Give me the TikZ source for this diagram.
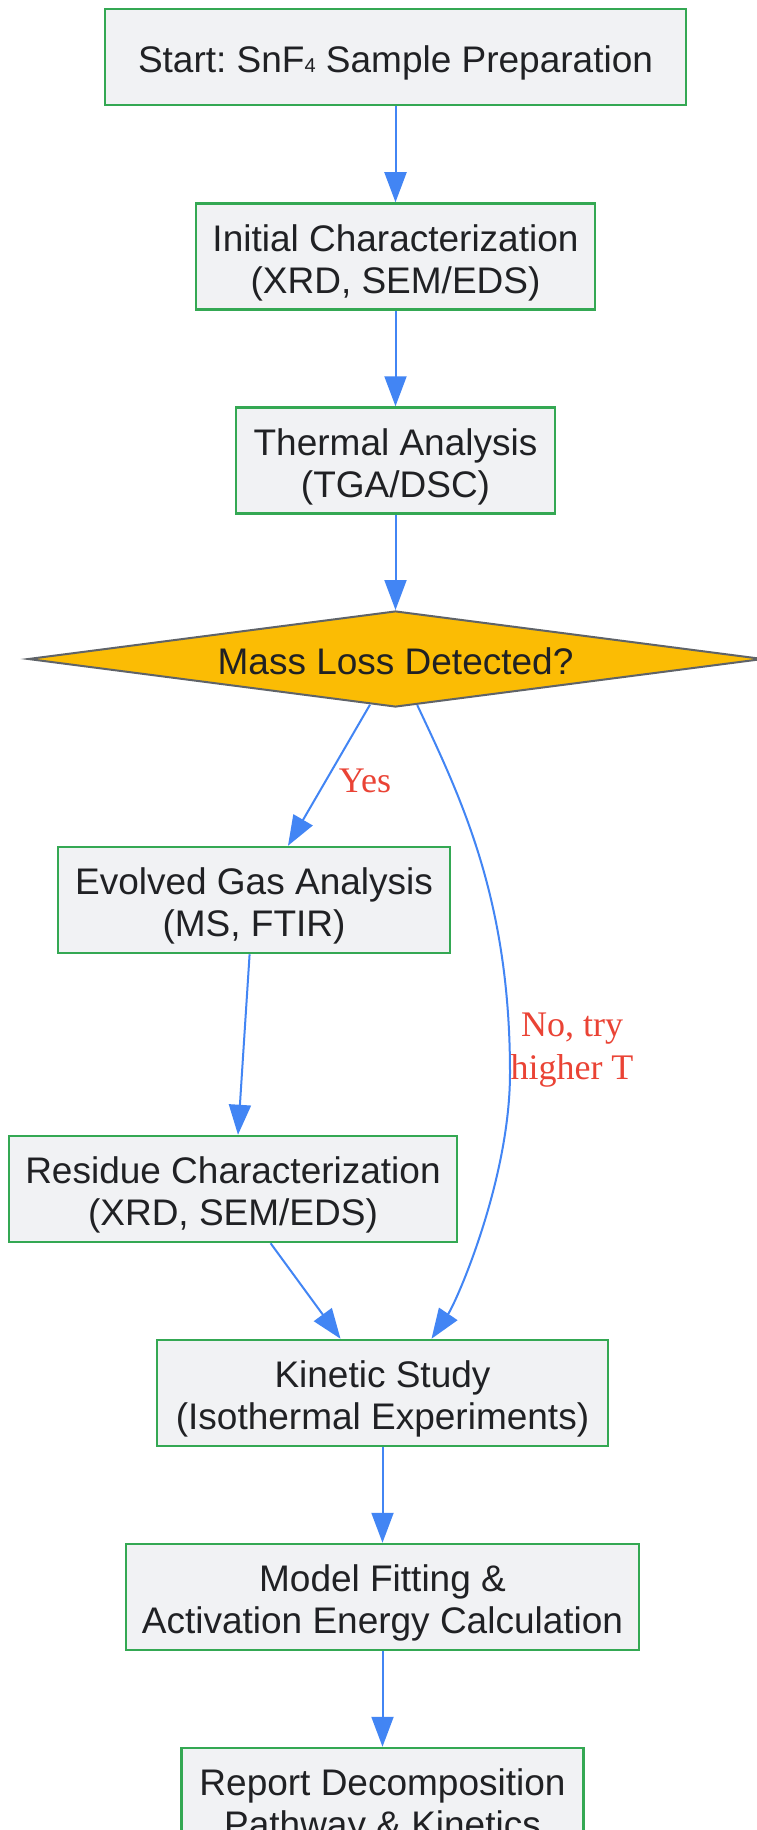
\documentclass[tikz,border=0pt]{standalone}
\usepackage{fontspec}
\setmainfont{Liberation Sans}
\newfontfamily\labelserif{Liberation Serif}
\usetikzlibrary{shapes.geometric,arrows.meta,calc}
\definecolor{boxfill}{HTML}{F1F2F4}
\definecolor{boxline}{HTML}{34A853}
\definecolor{edgeblue}{HTML}{4285F4}
\definecolor{decfill}{HTML}{FBBC04}
\definecolor{decline}{HTML}{5F6368}
\definecolor{txt}{HTML}{202124}
\definecolor{lblred}{HTML}{EA4335}
\frenchspacing
\newcommand\firstln{\rule{0pt}{39pt}}
\begin{document}
\begin{tikzpicture}[x=1pt,y=-1pt,
  stepbox/.style={draw=boxline, line width=2.5pt, fill=boxfill, text=txt, align=center,
    inner sep=0pt, minimum height=106pt, font=\fontsize{37}{42}\selectfont},
  decision/.style={diamond, aspect=7.66, draw=decline, line width=2pt, fill=decfill,
    text=txt, inner sep=0pt, minimum width=735pt, minimum height=96pt,
    font=\fontsize{37}{42}\selectfont},
  edge/.style={draw=edgeblue, line width=2pt, -{Triangle[length=30pt,width=22pt]}},
  elabel/.style={text=lblred, font=\labelserif\fontsize{36}{43}\selectfont, align=center, inner sep=0pt}]
\useasboundingbox (0,0) rectangle (757,1830);
\fill[white] (0,0) rectangle (757,1830);

\node[stepbox, minimum width=581pt, minimum height=96pt] (start) at (395.5,57)
  {\firstln Start: SnF{\fontsize{20}{20}\selectfont 4} Sample Preparation};
\node[stepbox, minimum width=399pt] (init) at (395.5,256.5)
  {\firstln Initial Characterization\\(XRD, SEM/EDS)};
\node[stepbox, minimum width=319pt] (therm) at (395.5,460.5)
  {\firstln Thermal Analysis\\(TGA/DSC)};
\node[decision] (dia) at (395.5,659) {\rule{0pt}{32pt}Mass Loss Detected?};
\node[stepbox, minimum width=392pt] (evo) at (254,900)
  {\firstln Evolved Gas Analysis\\(MS, FTIR)};
\node[stepbox, minimum width=448pt] (res) at (233,1189)
  {\firstln Residue Characterization\\(XRD, SEM/EDS)};
\node[stepbox, minimum width=451pt] (kin) at (382.5,1393)
  {\firstln Kinetic Study\\(Isothermal Experiments)};
\node[stepbox, minimum width=513pt] (model) at (382.5,1597)
  {\firstln Model Fitting \&\\Activation Energy Calculation};
\node[stepbox, minimum width=402pt] (rep) at (382.5,1801)
  {\firstln Report Decomposition\\Pathway \& Kinetics};

\coordinate (nobend) at (510,1073);

\draw[edge] (start) -- (init);
\draw[edge] (init) -- (therm);
\draw[edge] (therm) -- (dia);
\draw[edge] ([xshift=-25.5pt,yshift=3.3pt]dia.south) -- ([xshift=34pt]evo.north);
\draw[edge] ([xshift=-4.4pt]evo.south) -- ([xshift=5pt]res.north);
\draw[edge] ([xshift=37.6pt]res.south) -- ([xshift=-42pt]kin.north);
\draw[edge] (dia) .. controls (462,800) and (510,900) .. (nobend)
  .. controls (510,1180) and (456.6,1301.5) .. ([xshift=49pt]kin.north);
\draw[edge] (kin) -- (model);
\draw[edge] (model) -- (rep);

\node[elabel, anchor=base] (yes) at (365,792) {Yes};
\node[elabel] (no) at (572,1050) {No, try\\higher T};
\end{tikzpicture}
\end{document}
